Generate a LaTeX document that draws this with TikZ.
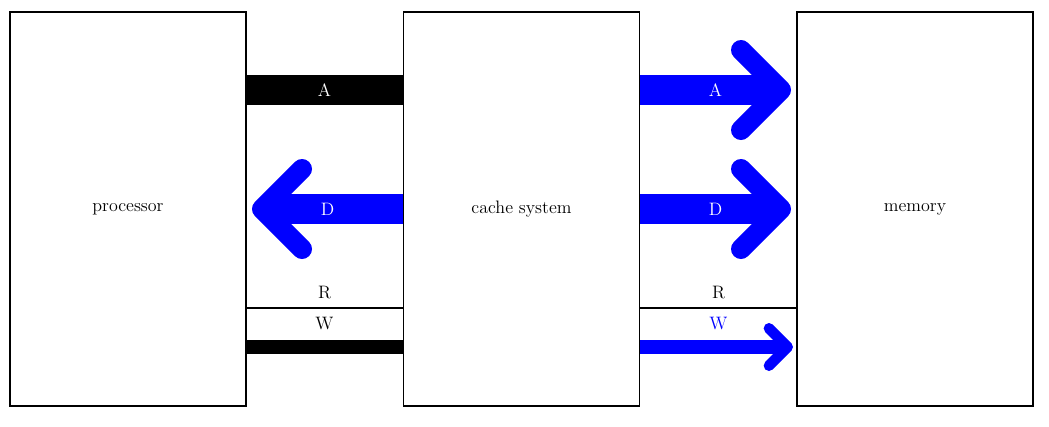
\documentclass[tikz,border=0pt]{standalone}
\usetikzlibrary{arrows.meta}
\begin{document}
\begin{tikzpicture}[x=0.75pt,y=-0.75pt,
  box/.style={draw,line width=1.2pt,minimum width=177pt,minimum height=295.5pt,inner sep=0pt,font=\fontsize{13.5}{16}\selectfont},
  lbl/.style={font=\fontsize{13.5}{16}\selectfont,inner sep=0pt},
  big/.style={blue,line width=22.5pt,-{Straight Barb[round,line width=15pt,length=30pt,width=60pt]}},
  small/.style={blue,line width=11pt,-{Straight Barb[round,line width=8pt,length=14pt,width=28pt]}}]
\useasboundingbox (0,0) rectangle (1049,426);
\node[box] (p) at (128,209) {processor};
\node[box] (c) at (521.5,209) {cache system};
\node[box] (m) at (915,209) {memory};
% processor - cache
\coordinate (pa) at (246,90); \coordinate (ca) at (403,90);
\draw[line width=22.5pt] (pa) -- (ca) node[midway,lbl,white]{A};
\coordinate (pd) at (252,209); \coordinate (cd) at (403,209);
\draw[big] (cd) -- (pd) node[midway,lbl,white]{D};
\coordinate (pr) at (246,308); \coordinate (cr) at (403,308);
\draw[line width=1.2pt] (pr) -- (cr) node[midway,lbl,above=6pt]{R} node[midway,lbl,below=6pt]{W};
\coordinate (pw) at (246,347); \coordinate (cw) at (403,347);
\draw[line width=11pt] (pw) -- (cw);
% cache - memory
\coordinate (ca2) at (640,90); \coordinate (ma) at (791,90);
\draw[big] (ca2) -- (ma) node[midway,lbl,white]{A};
\coordinate (cd2) at (640,209); \coordinate (md) at (791,209);
\draw[big] (cd2) -- (md) node[midway,lbl,white]{D};
\coordinate (cr2) at (640,308); \coordinate (mr) at (797,308);
\draw[line width=1.2pt] (cr2) -- (mr) node[midway,lbl,above=6pt]{R} node[midway,lbl,below=6pt,blue]{W};
\coordinate (cw2) at (640,347); \coordinate (mw) at (793,347);
\draw[small] (cw2) -- (mw);
\end{tikzpicture}
\end{document}
